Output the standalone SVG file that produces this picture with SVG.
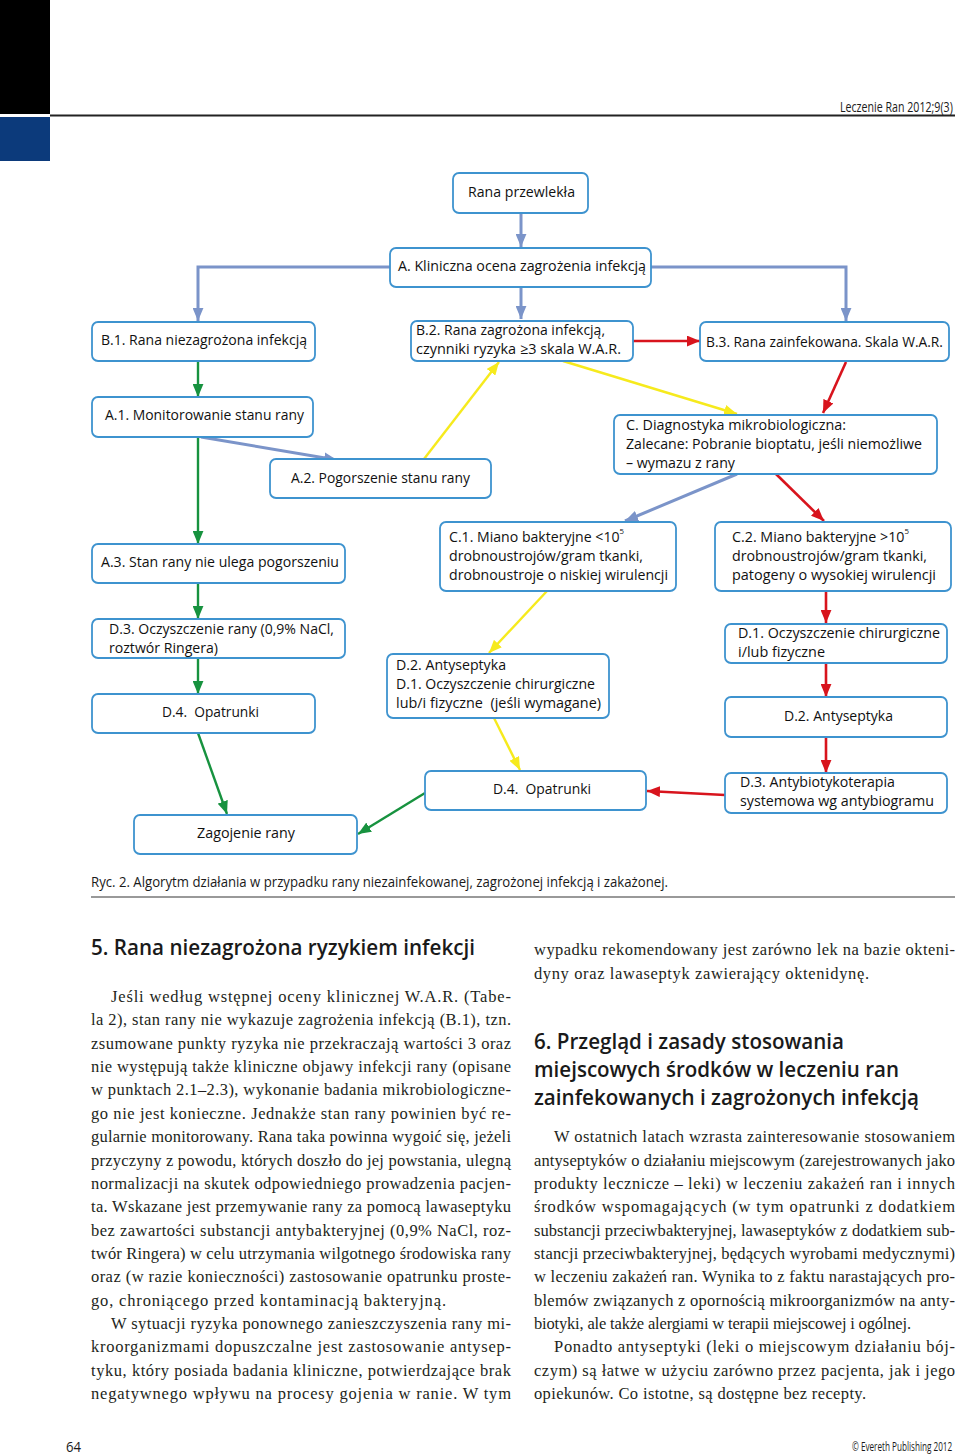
<svg xmlns="http://www.w3.org/2000/svg" width="960" height="1456" viewBox="0 0 960 1456">
<style>
.node rect{fill:#ffffff;stroke:#3e93cf;stroke-width:1.8}
.nt{font-family:"Open Sans","Liberation Sans",sans-serif;font-size:14.5px;fill:#111111}
.body{font-family:"Liberation Serif","DejaVu Serif",serif;font-size:16.5px;fill:#231f20}
.h{font-family:"Open Sans","Liberation Sans",sans-serif;font-weight:600;font-size:22px;fill:#1a1a1a}
.cap{font-family:"Open Sans","Liberation Sans",sans-serif;font-size:14px;fill:#1a1a1a}
.small{font-family:"Open Sans","Liberation Sans",sans-serif;fill:#1a1a1a}
.c{fill:none}
.cb{stroke:#7b94c9;stroke-width:3}
.cg{stroke:#17923f;stroke-width:2.4}
.cy{stroke:#f6ea1d;stroke-width:2.4}
.cr{stroke:#d8141d;stroke-width:2.6}
</style>
<defs>
<marker id="ab" markerUnits="userSpaceOnUse" viewBox="0 0 12 10" refX="12" refY="5" markerWidth="13" markerHeight="11" orient="auto"><path d="M0,0 L12,5 L0,10 z" fill="#7b94c9"/></marker>
<marker id="ag" markerUnits="userSpaceOnUse" viewBox="0 0 12 10" refX="12" refY="5" markerWidth="13" markerHeight="11" orient="auto"><path d="M0,0 L12,5 L0,10 z" fill="#17923f"/></marker>
<marker id="ay" markerUnits="userSpaceOnUse" viewBox="0 0 12 10" refX="12" refY="5" markerWidth="13" markerHeight="11" orient="auto"><path d="M0,0 L12,5 L0,10 z" fill="#f6ea1d"/></marker>
<marker id="ar" markerUnits="userSpaceOnUse" viewBox="0 0 12 10" refX="12" refY="5" markerWidth="13" markerHeight="11" orient="auto"><path d="M0,0 L12,5 L0,10 z" fill="#d8141d"/></marker>
</defs>

<!-- page header -->
<g id="header">
<rect x="0" y="0" width="50" height="114" fill="#000000"/>
<rect x="0" y="117" width="50" height="44" fill="#0c3a7b"/>
<line x1="50" y1="115.5" x2="955" y2="115.5" stroke="#222222" stroke-width="2"/>
<text class="small" transform="translate(840,112) scale(0.76,1)" x="0" y="0" font-size="14">Leczenie Ran 2012;9(3)</text>
</g>

<!-- connectors -->
<g id="connectors" class="c">
<path class="cb" d="M521,212 V247" marker-end="url(#ab)"/>
<path class="cb" d="M390,267 H198 V321" marker-end="url(#ab)"/>
<path class="cb" d="M521,287 V319" marker-end="url(#ab)"/>
<path class="cb" d="M651,267 H846 V321" marker-end="url(#ab)"/>
<path class="cr" d="M633,341 H700" marker-end="url(#ar)"/>
<path class="cg" d="M198,361 V397" marker-end="url(#ag)"/>
<path class="cb" d="M201,437 L337,460" marker-end="url(#ab)"/>
<path class="cg" d="M198,437 V544" marker-end="url(#ag)"/>
<path class="cy" d="M424,459 L499,362" marker-end="url(#ay)"/>
<path class="cy" d="M563,361 L737,414" marker-end="url(#ay)"/>
<path class="cr" d="M846,362 L823,413" marker-end="url(#ar)"/>
<path class="cb" d="M737,474 L625,521" marker-end="url(#ab)"/>
<path class="cr" d="M776,474 L824,521" marker-end="url(#ar)"/>
<path class="cg" d="M198,583 V619" marker-end="url(#ag)"/>
<path class="cg" d="M198,658 V694" marker-end="url(#ag)"/>
<path class="cg" d="M198,733 L227,814" marker-end="url(#ag)"/>
<path class="cy" d="M547,591 L489,653" marker-end="url(#ay)"/>
<path class="cy" d="M494,718 L520,770" marker-end="url(#ay)"/>
<path class="cr" d="M826,592 V623" marker-end="url(#ar)"/>
<path class="cr" d="M826,663 V697" marker-end="url(#ar)"/>
<path class="cr" d="M826,737 V773" marker-end="url(#ar)"/>
<path class="cr" d="M725,795 L647,791" marker-end="url(#ar)"/>
<path class="cg" d="M425,793 L358,834" marker-end="url(#ag)"/>
</g>

<!-- nodes -->
<g id="n-rana" class="node"><rect x="453" y="173" width="135" height="40" rx="6"/><text class="nt" x="521.5" y="197" text-anchor="middle" textLength="107" lengthAdjust="spacingAndGlyphs">Rana przewlekła</text></g>
<g id="n-A" class="node"><rect x="390" y="248" width="261" height="39" rx="6"/><text class="nt" x="522" y="271" text-anchor="middle" textLength="248" lengthAdjust="spacingAndGlyphs">A. Kliniczna ocena zagrożenia infekcją</text></g>
<g id="n-B1" class="node"><rect x="92" y="322" width="223" height="39" rx="6"/><text class="nt" x="204" y="345" text-anchor="middle" textLength="206" lengthAdjust="spacingAndGlyphs">B.1. Rana niezagrożona infekcją</text></g>
<g id="n-B2" class="node"><rect x="411" y="321" width="222" height="40" rx="6"/><text class="nt" x="416" y="335" textLength="189" lengthAdjust="spacingAndGlyphs">B.2. Rana zagrożona infekcją,</text><text class="nt" x="416" y="354" textLength="205" lengthAdjust="spacingAndGlyphs">czynniki ryzyka  ≥3 skala W.A.R.</text></g>
<g id="n-B3" class="node"><rect x="700" y="322" width="249" height="39" rx="6"/><text class="nt" x="824.5" y="347" text-anchor="middle" textLength="237" lengthAdjust="spacingAndGlyphs">B.3. Rana zainfekowana. Skala W.A.R.</text></g>
<g id="n-A1" class="node"><rect x="92" y="397" width="221" height="40" rx="6"/><text class="nt" x="204.5" y="420" text-anchor="middle" textLength="199" lengthAdjust="spacingAndGlyphs">A.1. Monitorowanie stanu rany</text></g>
<g id="n-A2" class="node"><rect x="270" y="459" width="221" height="39" rx="6"/><text class="nt" x="380.5" y="483" text-anchor="middle" textLength="179" lengthAdjust="spacingAndGlyphs">A.2. Pogorszenie stanu rany</text></g>
<g id="n-C" class="node"><rect x="614" y="415" width="323" height="59" rx="6"/><text class="nt" x="626" y="430" textLength="220" lengthAdjust="spacingAndGlyphs">C. Diagnostyka mikrobiologiczna:</text><text class="nt" x="626" y="449" textLength="296" lengthAdjust="spacingAndGlyphs">Zalecane: Pobranie bioptatu, jeśli niemożliwe</text><text class="nt" x="626" y="468" textLength="109" lengthAdjust="spacingAndGlyphs">– wymazu z rany</text></g>
<g id="n-A3" class="node"><rect x="92" y="544" width="253" height="39" rx="6"/><text class="nt" x="220" y="567" text-anchor="middle" textLength="238" lengthAdjust="spacingAndGlyphs">A.3. Stan rany nie ulega pogorszeniu</text></g>
<g id="n-C1" class="node"><rect x="440" y="522" width="236" height="69" rx="6"/><text class="nt" x="449" y="542" textLength="175" lengthAdjust="spacingAndGlyphs">C.1. Miano bakteryjne &lt;10<tspan font-size="8" dy="-8">5</tspan></text><text class="nt" x="449" y="561" textLength="194" lengthAdjust="spacingAndGlyphs">drobnoustrojów/gram tkanki,</text><text class="nt" x="449" y="580" textLength="219" lengthAdjust="spacingAndGlyphs">drobnoustroje o niskiej wirulencji</text></g>
<g id="n-C2" class="node"><rect x="715" y="522" width="236" height="69" rx="6"/><text class="nt" x="732" y="542" textLength="177" lengthAdjust="spacingAndGlyphs">C.2. Miano bakteryjne &gt;10<tspan font-size="8" dy="-8">5</tspan></text><text class="nt" x="732" y="561" textLength="195" lengthAdjust="spacingAndGlyphs">drobnoustrojów/gram tkanki,</text><text class="nt" x="732" y="580" textLength="204" lengthAdjust="spacingAndGlyphs">patogeny o wysokiej wirulencji</text></g>
<g id="n-D3a" class="node"><rect x="92" y="619" width="253" height="39" rx="6"/><text class="nt" x="109" y="634" textLength="225" lengthAdjust="spacingAndGlyphs">D.3. Oczyszczenie rany (0,9% NaCl,</text><text class="nt" x="109" y="653" textLength="109" lengthAdjust="spacingAndGlyphs">roztwór Ringera)</text></g>
<g id="n-D1" class="node"><rect x="725" y="624" width="222" height="39" rx="6"/><text class="nt" x="738" y="638" textLength="202" lengthAdjust="spacingAndGlyphs">D.1. Oczyszczenie chirurgiczne</text><text class="nt" x="738" y="657" textLength="87" lengthAdjust="spacingAndGlyphs">i/lub fizyczne</text></g>
<g id="n-D2m" class="node"><rect x="387" y="654" width="222" height="64" rx="6"/><text class="nt" x="396" y="670" textLength="110" lengthAdjust="spacingAndGlyphs">D.2. Antyseptyka</text><text class="nt" x="396" y="689" textLength="199" lengthAdjust="spacingAndGlyphs">D.1. Oczyszczenie chirurgiczne</text><text class="nt" x="396" y="708" textLength="205" lengthAdjust="spacingAndGlyphs" xml:space="preserve">lub/i fizyczne  (jeśli wymagane)</text></g>
<g id="n-D4a" class="node"><rect x="92" y="694" width="223" height="39" rx="6"/><text class="nt" x="210.5" y="717" text-anchor="middle" textLength="97" lengthAdjust="spacingAndGlyphs" xml:space="preserve">D.4.  Opatrunki</text></g>
<g id="n-D2r" class="node"><rect x="725" y="697" width="222" height="40" rx="6"/><text class="nt" x="838.5" y="721" text-anchor="middle" textLength="109" lengthAdjust="spacingAndGlyphs">D.2. Antyseptyka</text></g>
<g id="n-D4m" class="node"><rect x="425" y="771" width="221" height="39" rx="6"/><text class="nt" x="542" y="794" text-anchor="middle" textLength="98" lengthAdjust="spacingAndGlyphs" xml:space="preserve">D.4.  Opatrunki</text></g>
<g id="n-D3r" class="node"><rect x="725" y="773" width="222" height="40" rx="6"/><text class="nt" x="740" y="787" textLength="155" lengthAdjust="spacingAndGlyphs">D.3. Antybiotykoterapia</text><text class="nt" x="740" y="806" textLength="194" lengthAdjust="spacingAndGlyphs">systemowa wg antybiogramu</text></g>
<g id="n-zag" class="node"><rect x="134" y="815" width="223" height="39" rx="6"/><text class="nt" x="246" y="838" text-anchor="middle" textLength="98" lengthAdjust="spacingAndGlyphs">Zagojenie rany</text></g>

<!-- caption -->
<g id="caption">
<text class="cap" x="91" y="887" textLength="577" lengthAdjust="spacingAndGlyphs">Ryc. 2. Algorytm działania w przypadku rany niezainfekowanej, zagrożonej infekcją i zakażonej.</text>
<line x1="91" y1="897" x2="955" y2="897" stroke="#777777" stroke-width="1.5"/>
</g>

<!-- left column -->
<g id="col-left">
<text class="h" x="91" y="955" textLength="384" lengthAdjust="spacingAndGlyphs">5. Rana niezagrożona ryzykiem infekcji</text>
<text class="body" x="111" y="1002" textLength="400" lengthAdjust="spacing">Jeśli według wstępnej oceny klinicznej W.A.R. (Tabe-</text>
<text class="body" x="91" y="1025.4" textLength="420" lengthAdjust="spacing">la 2), stan rany nie wykazuje zagrożenia infekcją (B.1), tzn.</text>
<text class="body" x="91" y="1048.7" textLength="420" lengthAdjust="spacing">zsumowane punkty ryzyka nie przekraczają wartości 3 oraz</text>
<text class="body" x="91" y="1072.1" textLength="420" lengthAdjust="spacing">nie występują także kliniczne objawy infekcji rany (opisane</text>
<text class="body" x="91" y="1095.4" textLength="420" lengthAdjust="spacing">w punktach 2.1–2.3), wykonanie badania mikrobiologiczne-</text>
<text class="body" x="91" y="1118.8" textLength="420" lengthAdjust="spacing">go nie jest konieczne. Jednakże stan rany powinien być re-</text>
<text class="body" x="91" y="1142.1" textLength="420" lengthAdjust="spacing">gularnie monitorowany. Rana taka powinna wygoić się, jeżeli</text>
<text class="body" x="91" y="1165.5" textLength="420" lengthAdjust="spacing">przyczyny z powodu, których doszło do jej powstania, ulegną</text>
<text class="body" x="91" y="1188.8" textLength="420" lengthAdjust="spacing">normalizacji na skutek odpowiedniego prowadzenia pacjen-</text>
<text class="body" x="91" y="1212.2" textLength="420" lengthAdjust="spacing">ta. Wskazane jest przemywanie rany za pomocą lawaseptyku</text>
<text class="body" x="91" y="1235.5" textLength="420" lengthAdjust="spacing">bez zawartości substancji antybakteryjnej (0,9% NaCl, roz-</text>
<text class="body" x="91" y="1258.9" textLength="420" lengthAdjust="spacing">twór Ringera) w celu utrzymania wilgotnego środowiska rany</text>
<text class="body" x="91" y="1282.2" textLength="420" lengthAdjust="spacing">oraz (w razie konieczności) zastosowanie opatrunku proste-</text>
<text class="body" x="91" y="1305.6" textLength="355" lengthAdjust="spacing">go, chroniącego przed kontaminacją bakteryjną.</text>
<text class="body" x="111" y="1328.9" textLength="400" lengthAdjust="spacing">W sytuacji ryzyka ponownego zanieszczyszenia rany mi-</text>
<text class="body" x="91" y="1352.3" textLength="420" lengthAdjust="spacing">kroorganizmami dopuszczalne jest zastosowanie antysep-</text>
<text class="body" x="91" y="1375.6" textLength="420" lengthAdjust="spacing">tyku, który posiada badania kliniczne, potwierdzające brak</text>
<text class="body" x="91" y="1399" textLength="420" lengthAdjust="spacing">negatywnego wpływu na procesy gojenia w ranie. W tym</text>
</g>

<!-- right column -->
<g id="col-right">
<text class="body" x="534" y="955.3" textLength="421" lengthAdjust="spacing">wypadku rekomendowany jest zarówno lek na bazie okteni-</text>
<text class="body" x="534" y="978.7" textLength="335" lengthAdjust="spacing">dyny oraz lawaseptyk zawierający oktenidynę.</text>
<text class="h" x="534" y="1049" textLength="310" lengthAdjust="spacingAndGlyphs">6. Przegląd i zasady stosowania</text>
<text class="h" x="534" y="1077" textLength="365" lengthAdjust="spacingAndGlyphs">miejscowych środków w leczeniu ran</text>
<text class="h" x="534" y="1105" textLength="385" lengthAdjust="spacingAndGlyphs">zainfekowanych i zagrożonych infekcją</text>
<text class="body" x="554" y="1142.1" textLength="401" lengthAdjust="spacing">W ostatnich latach wzrasta zainteresowanie stosowaniem</text>
<text class="body" x="534" y="1165.5" textLength="421" lengthAdjust="spacing">antyseptyków o działaniu miejscowym (zarejestrowanych jako</text>
<text class="body" x="534" y="1188.8" textLength="421" lengthAdjust="spacing">produkty lecznicze – leki) w leczeniu zakażeń ran i innych</text>
<text class="body" x="534" y="1212.2" textLength="421" lengthAdjust="spacing">środków wspomagających (w tym opatrunki z dodatkiem</text>
<text class="body" x="534" y="1235.5" textLength="421" lengthAdjust="spacing">substancji przeciwbakteryjnej, lawaseptyków z dodatkiem sub-</text>
<text class="body" x="534" y="1258.9" textLength="421" lengthAdjust="spacing">stancji przeciwbakteryjnej, będących wyrobami medycznymi)</text>
<text class="body" x="534" y="1282.2" textLength="421" lengthAdjust="spacing">w leczeniu zakażeń ran. Wynika to z faktu narastających pro-</text>
<text class="body" x="534" y="1305.6" textLength="421" lengthAdjust="spacing">blemów związanych z opornością mikroorganizmów na anty-</text>
<text class="body" x="534" y="1328.9" textLength="377" lengthAdjust="spacing">biotyki, ale także alergiami w terapii miejscowej i ogólnej.</text>
<text class="body" x="554" y="1352.3" textLength="401" lengthAdjust="spacing">Ponadto antyseptyki (leki o miejscowym działaniu bój-</text>
<text class="body" x="534" y="1375.6" textLength="421" lengthAdjust="spacing">czym) są łatwe w użyciu zarówno przez pacjenta, jak i jego</text>
<text class="body" x="534" y="1399" textLength="332" lengthAdjust="spacing">opiekunów. Co istotne, są dostępne bez recepty.</text>
</g>

<!-- footer -->
<g id="footer">
<text class="small" x="66" y="1452" font-size="15" textLength="15" lengthAdjust="spacingAndGlyphs">64</text>
<text class="small" transform="translate(852,1451) scale(0.68,1)" x="0" y="0" font-size="12">© Evereth Publishing 2012</text>
</g>
</svg>
